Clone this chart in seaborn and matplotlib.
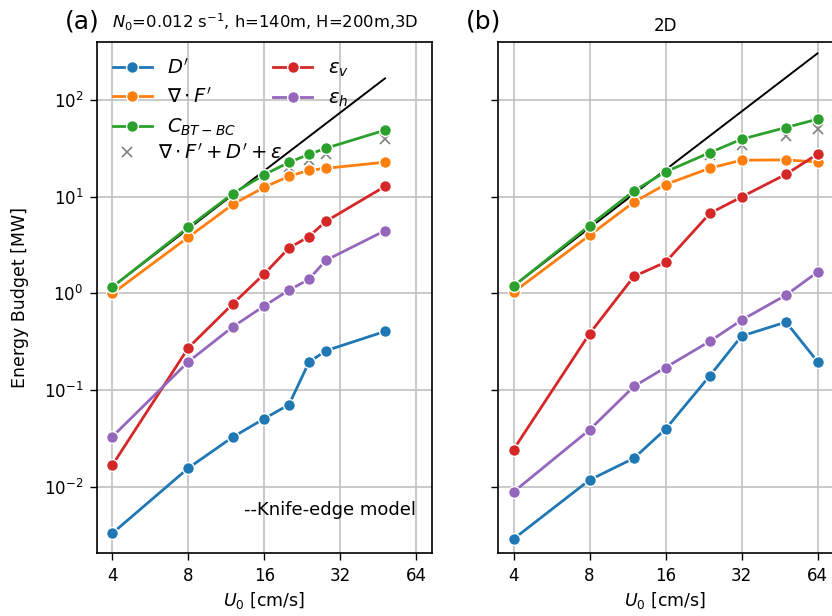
import numpy as np
import pandas as pd
import matplotlib
matplotlib.use("Agg")
import matplotlib.pyplot as plt
from matplotlib.ticker import FixedLocator, FixedFormatter, NullLocator
import seaborn as sns

# ---- 3D runs ----
u_3d = [4, 8, 12, 16, 20, 24, 28, 48]
d_3d = [0.0033, 0.0156, 0.0327, 0.0507, 0.0705, 0.194, 0.255, 0.404]
divf_3d = [1.0, 3.83, 8.36, 12.6, 16.3, 18.8, 19.7, 22.8]
cbt_3d = [1.17, 4.86, 10.8, 17.0, 22.7, 27.5, 31.8, 48.9]
epsv_3d = [0.0168, 0.275, 0.782, 1.60, 2.95, 3.87, 5.57, 12.8]
epsh_3d = [0.033, 0.197, 0.452, 0.745, 1.08, 1.40, 2.20, 4.46]
sum_3d = [1.05, 4.3, 9.6, 15.0, 20.5, 24.3, 27.7, 40.0]

# ---- 2D runs ----
u_2d = [4, 8, 12, 16, 24, 32, 48, 64]
d_2d = [0.00287, 0.0117, 0.0197, 0.0393, 0.141, 0.361, 0.505, 0.197]
divf_2d = [1.03, 3.99, 8.83, 13.4, 19.8, 23.9, 24.1, 22.9]
cbt_2d = [1.19, 5.03, 11.5, 18.1, 28.7, 39.4, 52.1, 63.6]
epsv_2d = [0.0242, 0.382, 1.50, 2.10, 6.75, 9.95, 17.1, 27.6]
epsh_2d = [0.00881, 0.0387, 0.109, 0.171, 0.320, 0.529, 0.960, 1.66]
sum_2d = [1.08, 4.4, 10.5, 15.7, 27.3, 34.5, 42.5, 50.0]

# knife-edge model (U0^2 scaling) end points
knife_u_3d = [4, 48]
knife_p_3d = [1.17, 168.0]
knife_u_2d = [4, 64]
knife_p_2d = [1.19, 305.0]

terms = [r"$D'$", r"$\nabla\cdot F'$", r"$C_{BT-BC}$", r"$\varepsilon_v$", r"$\varepsilon_h$"]
sum_label = r"$\nabla\cdot F'+D'+\varepsilon$"
xticks = [4, 8, 16, 32, 64]
xtick_labels = ["4", "8", "16", "32", "64"]
yticks = [1e-2, 1e-1, 1e0, 1e1, 1e2]


def long_frame(u, series):
    rows = []
    for name, vals in zip(terms, series):
        for x, v in zip(u, vals):
            rows.append({"U0": x, "P": v, "term": name})
    return pd.DataFrame(rows)


df3 = long_frame(u_3d, [d_3d, divf_3d, cbt_3d, epsv_3d, epsh_3d])
df2 = long_frame(u_2d, [d_2d, divf_2d, cbt_2d, epsv_2d, epsh_2d])
palette = dict(zip(terms, sns.color_palette("tab10", 5)))

plt.rcParams["font.family"] = ["DejaVu Sans"]
plt.rcParams["mathtext.fontset"] = "dejavusans"

W, H = 832, 616
fig = plt.figure(figsize=(W / 100, H / 100), dpi=100)
bottom = 1 - 553 / H
height = (553 - 42.3) / H
width = (431.7 - 97.3) / W
ax1 = fig.add_axes([97.3 / W, bottom, width, height])
ax2 = fig.add_axes([498.3 / W, bottom, width, height])


def draw(ax, df, u, sums, ku, kp):
    ax.plot(ku, kp, color="black", lw=1.4, zorder=2)
    ax.plot(u, sums, ls="none", marker="x", ms=7, mew=1.2, color="#808080",
            zorder=2.5, label=sum_label)
    sns.lineplot(data=df, x="U0", y="P", hue="term", hue_order=terms,
                 palette=palette, marker="o", markersize=8.5,
                 markeredgecolor="white", markeredgewidth=1.0, lw=2.0,
                 ax=ax, zorder=3)
    ax.set_xscale("log", base=2)
    ax.set_yscale("log")
    ax.set_xlim(4 / 2 ** 0.2, 64 * 2 ** 0.2)
    ax.set_ylim(10 ** -2.687, 10 ** 2.599)
    ax.xaxis.set_major_locator(FixedLocator(xticks))
    ax.xaxis.set_major_formatter(FixedFormatter(xtick_labels))
    ax.xaxis.set_minor_locator(NullLocator())
    ax.yaxis.set_major_locator(FixedLocator(yticks))
    ax.yaxis.set_minor_locator(NullLocator())
    ax.grid(True, color="#c0c0c0", lw=1.2)
    ax.set_axisbelow(True)
    for s in ax.spines.values():
        s.set_color("black")
        s.set_linewidth(1.2)
    ax.tick_params(axis="both", labelsize=12, length=5, width=1.0, pad=5)
    ax.set_xlabel(r"$U_0$ [cm/s]", fontsize=12.5)
    ax.set_ylabel("")


draw(ax1, df3, u_3d, sum_3d, knife_u_3d, knife_p_3d)
draw(ax2, df2, u_2d, sum_2d, knife_u_2d, knife_p_2d)

ax1.set_ylabel("Energy Budget [MW]", fontsize=12.5, labelpad=11)
ax2.tick_params(axis="y", labelleft=False)
ax2.get_legend().remove()

# legend for the five budget terms, plus a separate one for the residual sum
handles, labels = ax1.get_legend_handles_labels()
hmap = dict(zip(labels, handles))
ax1.get_legend().remove()
leg1 = ax1.legend([hmap[t] for t in terms], terms, ncol=2, loc="upper left",
                  frameon=False, fontsize=14, handlelength=2.0,
                  columnspacing=1.9, labelspacing=0.5, borderaxespad=0.4)
ax1.add_artist(leg1)
ax1.legend([hmap[sum_label]], [sum_label], loc="center left",
           bbox_to_anchor=(0.0, 0.783), frameon=False, fontsize=14,
           handlelength=1.5, borderaxespad=0.4)

ax1.text(0.953, 0.085, "--Knife-edge model", transform=ax1.transAxes,
         ha="right", va="center", fontsize=13)

ax1.set_title(r"$N_0$=0.012 s$^{-1}$, h=140m, H=200m,3D", fontsize=11.8, pad=10)
ax2.set_title("2D", fontsize=12, pad=8)
fig.text(65 / W, 1 - 22 / H, "(a)", fontsize=18, va="center", ha="left")
fig.text(466 / W, 1 - 22 / H, "(b)", fontsize=18, va="center", ha="left")

fig.savefig("out.png", dpi=100)
